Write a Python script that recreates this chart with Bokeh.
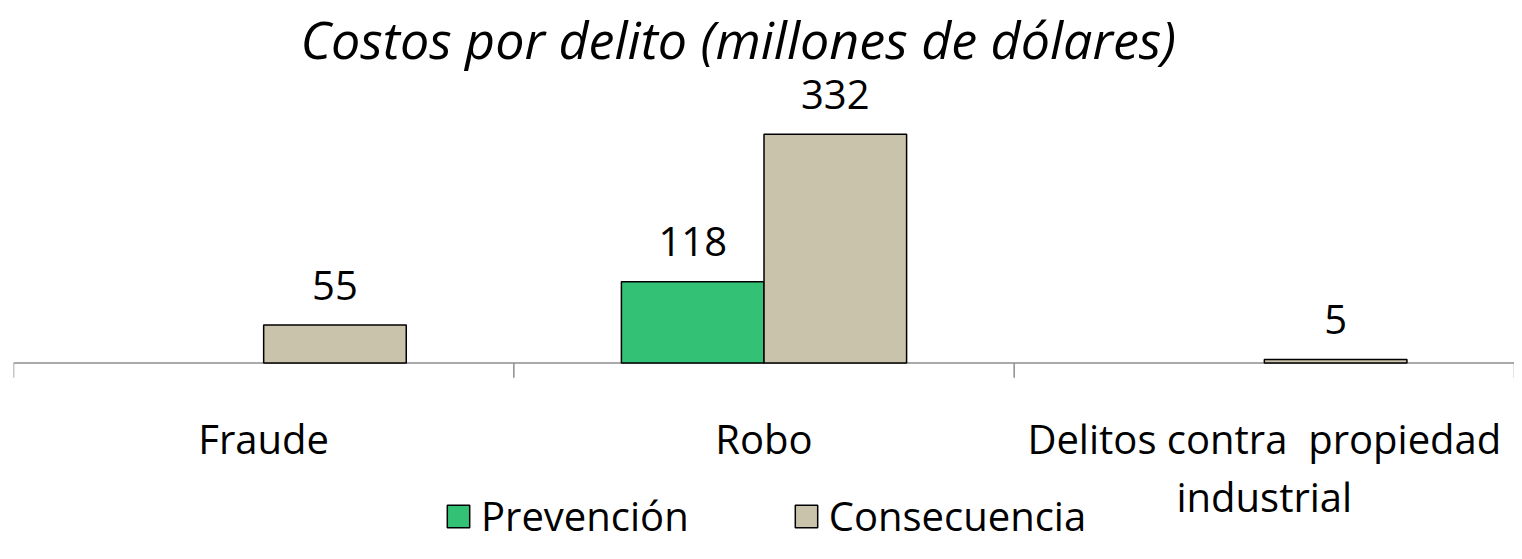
from bokeh.plotting import figure
from bokeh.models import (Range1d, ColumnDataSource, Legend, LegendItem)
from bokeh.core.properties import value
from bokeh.embed import file_html
from bokeh.resources import INLINE
import math

categories = ["Fraude", "Robo", "Delitos contra  propiedad\nindustrial"]
prevencion = [float("nan"), 118, float("nan")]
consecuencia = [55, 332, 5]
series_names = ["Prevención", "Consecuencia"]
title_text = "Costos por delito (millones de dólares)"

FONT = "Open Sans"
GREEN = "#33c176"
BEIGE = "#c8c3aa"
AXIS = "#8e8e8e"
bw = 0.285

n = len(categories)
centers = [i + 0.5 for i in range(n)]
src_prev = ColumnDataSource(dict(x=[c - bw / 2 for c in centers], top=prevencion))
src_cons = ColumnDataSource(dict(x=[c + bw / 2 for c in centers], top=consecuencia))

def label_src(xs, vals):
    ox, oy, ot = [], [], []
    for x, v in zip(xs, vals):
        if not (isinstance(v, float) and math.isnan(v)):
            ox.append(x); oy.append(v); ot.append(str(int(v)))
    return ColumnDataSource(dict(x=ox, y=oy, t=ot))

# frame layout: 290 px above the baseline, 181 px below; 229 px for 332 units
PX_ABOVE, PX_BELOW = 290, 181
units_per_px = 332 / 229
y_top = PX_ABOVE * units_per_px
y_bottom = -PX_BELOW * units_per_px
p = figure(x_range=Range1d(0, n), y_range=Range1d(y_bottom, y_top),
           width=1514, height=543, output_backend="svg", toolbar_location=None,
           x_axis_location=None, y_axis_location=None,
           min_border_left=13, min_border_right=0, min_border_top=72, min_border_bottom=0)
p.title.text = title_text
p.title.text_font = FONT
p.title.text_font_size = "52px"
p.title.text_font_style = "italic"
p.title.align = "left"
p.title.offset = 287
p.title.text_color = "black"
p.title.standoff = 0
p.outline_line_color = None
p.grid.visible = False
p.background_fill_color = "white"

# category axis: baseline and boundary ticks
bounds = list(range(n + 1))
p.segment(x0=[0], y0=[0], x1=[n], y1=[0], line_color=AXIS, line_width=1.5)
tick_len = 15 * units_per_px
p.segment(x0=bounds, y0=[0] * len(bounds), x1=bounds, y1=[-tick_len] * len(bounds),
          line_color=AXIS, line_width=1.5)

r1 = p.vbar(x="x", top="top", width=bw, source=src_prev,
            fill_color=GREEN, line_color="black", line_width=1.5)
r2 = p.vbar(x="x", top="top", width=bw, source=src_cons,
            fill_color=BEIGE, line_color="black", line_width=1.5)

for s in (src_prev, src_cons):
    p.text(x="x", y="y", text="t", source=label_src(s.data["x"], s.data["top"]),
           text_align="center", text_baseline="alphabetic", y_offset=-40,
           text_font=value(FONT), text_font_size="40px", text_color="black")

cat_src = ColumnDataSource(dict(x=centers, y=[0] * n,
                                t=[c.replace("  ", "\u00a0 ") for c in categories]))
p.text(x="x", y="y", text="t", source=cat_src, text_align="center", text_baseline="top",
       y_offset=48, text_line_height=1.05,
       text_font=value(FONT), text_font_size="40px", text_color="black")

legend = Legend(items=[LegendItem(label=series_names[0], renderers=[r1]),
                       LegendItem(label=series_names[1], renderers=[r2])],
                orientation="horizontal", location=(431, 0),
                label_text_font=FONT, label_text_font_size="40px", label_text_color="black",
                glyph_width=28, glyph_height=28, label_standoff=9, spacing=103,
                padding=0, margin=0, border_line_color=None, background_fill_alpha=0)
p.add_layout(legend, "center")

open("out.html", "w").write(file_html(p, INLINE))
